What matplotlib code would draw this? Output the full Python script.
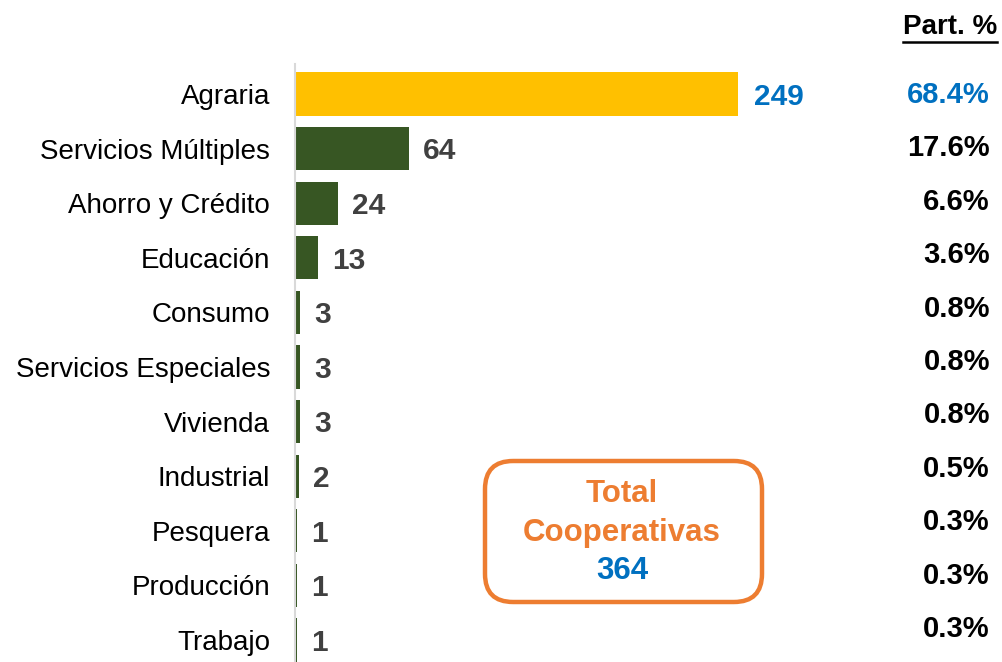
import matplotlib
matplotlib.use("Agg")
import matplotlib.pyplot as plt
from matplotlib.patches import FancyBboxPatch

plt.rcParams['font.family'] = ['Liberation Sans', 'DejaVu Sans']

categories = ["Agraria", "Servicios Múltiples", "Ahorro y Crédito", "Educación", "Consumo",
              "Servicios Especiales", "Vivienda", "Industrial", "Pesquera", "Producción", "Trabajo"]
values = [249, 64, 24, 13, 3, 3, 3, 2, 1, 1, 1]
pct_labels = ["68.4%", "17.6%", "6.6%", "3.6%", "0.8%", "0.8%", "0.8%", "0.5%", "0.3%", "0.3%", "0.3%"]
total_label = "364"

W, H = 1003, 662
fig = plt.figure(figsize=(W / 100, H / 100), dpi=100)

ax_left, ax_right = 295, 900
n = len(categories)
sp = (640 - 94) / (n - 1)
top_px = 94 - sp * 0.55
bot_px = 640 + sp * 0.55
ax = fig.add_axes([ax_left / W, 1 - bot_px / H, (ax_right - ax_left) / W, (bot_px - top_px) / H])
scale = (739 - 296) / 249.0
ax.set_xlim(0, (ax_right - ax_left) / scale)
ys = list(range(n))
ax.set_ylim(n - 1 + 0.55, -0.55)

colors = ["#FFC000"] + ["#375623"] * (n - 1)
ax.barh(ys, values, height=0.79, color=colors)

for i, v in enumerate(values):
    c = "#0070C0" if i == 0 else "#404040"
    ax.text(v + (16 if i == 0 else 14) / scale, i + 0.05, str(v), ha="left", va="center",
            fontsize=21.5, fontweight="bold", color=c)

ax.set_yticks(ys)
ax.set_yticklabels(categories, fontsize=20, color="#000000")
ax.tick_params(axis="y", length=0, pad=18)
ax.set_xticks([])
for s in ["top", "right", "bottom"]:
    ax.spines[s].set_visible(False)
ax.spines["left"].set_color("#D9D9D9")
ax.spines["left"].set_linewidth(1.5)

# Part. % header
fig.text(997 / W, 1 - 27 / H, "Part. %", ha="right", va="center", fontsize=20,
         fontweight="bold", color="black")
fig.add_artist(plt.Line2D([903 / W, 997 / W], [1 - 42 / H, 1 - 42 / H], color="black", lw=1.8))

pct_y0, pct_sp = 95, (629 - 95) / 10
for i, p in enumerate(pct_labels):
    c = "#0070C0" if i == 0 else "#000000"
    fig.text(990 / W, 1 - (pct_y0 + i * pct_sp) / H, p, ha="right", va="center",
             fontsize=21, fontweight="bold", color=c)

# Total box
box = FancyBboxPatch((485 / W, 1 - 602 / H), (762 - 485) / W, (602 - 461) / H,
                     boxstyle="round,pad=0,rounding_size=0.028", transform=fig.transFigure,
                     facecolor="white", edgecolor="#ED7D31", linewidth=3.2, mutation_aspect=W / H)
fig.add_artist(box)
fig.text(622 / W, 1 - 494 / H, "Total", ha="center", va="center", fontsize=22.5,
         fontweight="bold", color="#ED7D31")
fig.text(622 / W, 1 - 533 / H, "Cooperativas", ha="center", va="center", fontsize=22.5,
         fontweight="bold", color="#ED7D31")
fig.text(622 / W, 1 - 571 / H, total_label, ha="center", va="center", fontsize=22.5,
         fontweight="bold", color="#0070C0")

fig.savefig("out.png", dpi=100)
